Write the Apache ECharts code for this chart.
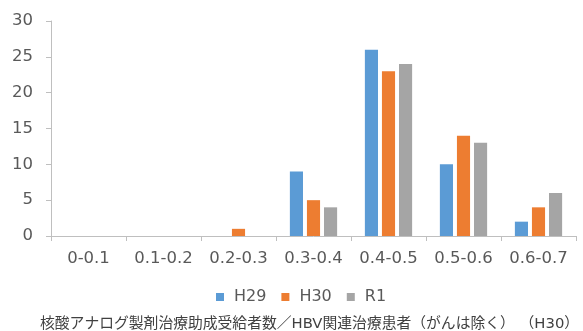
<!DOCTYPE html>
<html>
<head>
<meta charset="utf-8">
<script src="https://cdn.jsdelivr.net/npm/echarts@6/dist/echarts.min.js"></script>
<style>
html, body { margin: 0; padding: 0; background: #fff; }
#chart { width: 583px; height: 331px; }
</style>
</head>
<body>
<div id="chart"></div>
<script>
// Value ranges (ratio bins)
const categories = ['0-0.1', '0.1-0.2', '0.2-0.3', '0.3-0.4', '0.4-0.5', '0.5-0.6', '0.6-0.7'];
const seriesNames = ['H29', 'H30', 'R1'];
const h29 = [0, 0, 0, 9, 26, 10, 2];
const h30 = [0, 0, 1, 5, 23, 14, 4];
const r1 = [0, 0, 0, 4, 24, 13, 6];
const colors = ['#5B9BD5', '#ED7D31', '#A5A5A5'];
const footer = '核酸アナログ製剤治療助成受給者数／HBV関連治療患者（がんは除く） （H30）';

const font = '"DejaVu Sans", "Noto Sans CJK JP", sans-serif';
const chart = echarts.init(document.getElementById('chart'));

const values = [h29, h30, r1];
chart.setOption({
  animation: false,
  color: colors,
  textStyle: { fontFamily: font, color: '#595959' },
  grid: { left: 51, right: 7, top: 21, bottom: 95 },
  legend: {
    data: seriesNames,
    top: 284,
    left: 211,
    itemWidth: 8,
    itemHeight: 8,
    itemGap: 15,
    icon: 'rect',
    textStyle: { fontFamily: font, fontSize: 16, color: '#595959', padding: [0, 0, 0, 5] }
  },
  title: {
    text: footer,
    top: 312,
    left: 35,
    textStyle: { fontFamily: font, fontSize: 14.8, fontWeight: 'normal', color: '#404040' }
  },
  xAxis: {
    type: 'category',
    data: categories,
    axisLine: { lineStyle: { color: '#BFBFBF' } },
    axisTick: { show: true, length: 5, lineStyle: { color: '#BFBFBF' } },
    axisLabel: { fontFamily: font, fontSize: 16.5, color: '#595959', margin: 14, interval: 0 }
  },
  yAxis: {
    type: 'value',
    min: 0,
    max: 30,
    interval: 5,
    axisLine: { show: true, lineStyle: { color: '#BFBFBF' } },
    axisTick: { show: true, length: 5, lineStyle: { color: '#BFBFBF' } },
    splitLine: { show: false },
    axisLabel: { fontFamily: font, fontSize: 16.5, color: '#595959', margin: 18 }
  },
  series: seriesNames.map((name, i) => ({
    name: name,
    type: 'bar',
    data: values[i],
    barGap: '30%',
    barCategoryGap: '37%'
  }))
});
</script>
</body>
</html>
